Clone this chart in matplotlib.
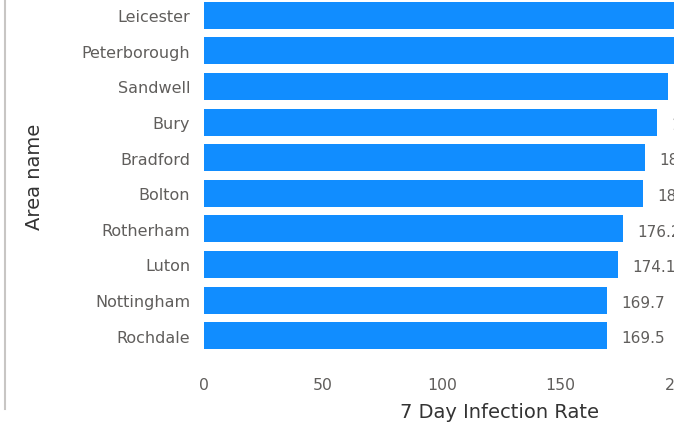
import matplotlib
matplotlib.use("Agg")
import matplotlib.pyplot as plt
from matplotlib.lines import Line2D

# values (top two bars run past the crop, so estimated)
areas = ["Leicester", "Peterborough", "Sandwell", "Bury", "Bradford",
         "Bolton", "Rotherham", "Luton", "Nottingham", "Rochdale"]
rates = [215.4, 205.2, 195.3, 190.4, 185.5, 184.8, 176.2, 174.1, 169.7, 169.5]
xticks = [0, 50, 100, 150, 200]

bar_color = "#118DFF"
tick_color = "#605E5C"
title_color = "#333333"

plt.rcParams['font.family'] = ['DejaVu Sans']

fig = plt.figure(figsize=(6.74, 4.27), dpi=100)
fig.patch.set_facecolor("white")

# axes intentionally runs past the right edge, like the cropped screenshot
ax = fig.add_axes([204 / 674, 72.5 / 427, 590 / 674, 356 / 427])

pos = list(range(len(areas)))
ax.barh(pos, rates, height=0.76, color=bar_color)
ax.set_ylim(len(areas) - 0.5, -0.5)
ax.set_xlim(0, 248.2)

ax.set_yticks(pos)
ax.set_yticklabels(areas, fontsize=11.5, color=tick_color)
ax.set_xticks(xticks)
ax.set_xticklabels([str(t) for t in xticks], fontsize=11.3, color=tick_color)
ax.tick_params(length=0, pad=10, axis="y")
ax.tick_params(length=0, pad=17, axis="x")

for y, v in zip(pos, rates):
    ax.text(v + 6, y + 0.06, "{0:.1f}".format(v), va="center", ha="left",
            fontsize=11, color=tick_color)

for s in ax.spines.values():
    s.set_visible(False)

# axis titles placed where the visual shows them
fig.text(499 / 674, 1 - 413 / 427, "7 Day Infection Rate", ha="center", va="center",
         fontsize=14, color=title_color)
fig.text(35 / 674, 1 - 177 / 427, "Area name", ha="center", va="center",
         rotation=90, fontsize=14, color=title_color)

# grey border line of the visual on the left
fig.add_artist(Line2D([5 / 674, 5 / 674], [17 / 427, 1.0], color="#C8C6C4", lw=1.5))

fig.savefig("out.png", dpi=100)
